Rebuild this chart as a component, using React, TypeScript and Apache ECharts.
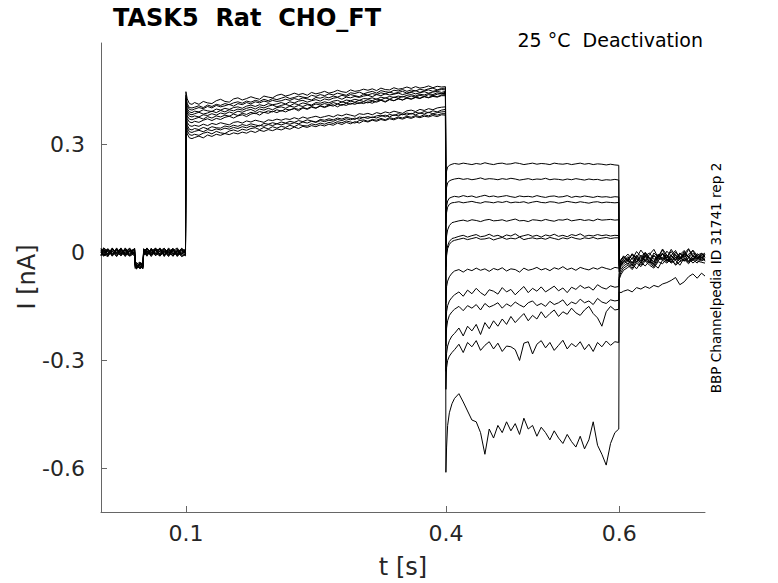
import React, { useEffect, useRef } from "react";
import * as echarts from "echarts";

// Sample times (s) of each protocol segment
const PRE_T = [0.002, 0.005, 0.01, 0.015, 0.02, 0.025, 0.03, 0.035, 0.0408, 0.0415, 0.043, 0.047, 0.0505, 0.0512, 0.055, 0.06, 0.065, 0.07, 0.075, 0.08, 0.085, 0.09, 0.095, 0.0995];
const PLATEAU_T = [
  0.1, 0.1015, 0.104, 0.107,
  0.11, 0.115, 0.12, 0.125, 0.13, 0.135, 0.14, 0.145, 0.15, 0.155,
  0.16, 0.165, 0.17, 0.175, 0.18, 0.185, 0.19, 0.195, 0.2, 0.205,
  0.21, 0.215, 0.22, 0.225, 0.23, 0.235, 0.24, 0.245, 0.25, 0.255,
  0.26, 0.265, 0.27, 0.275, 0.28, 0.285, 0.29, 0.295, 0.3, 0.305,
  0.31, 0.315, 0.32, 0.325, 0.33, 0.335, 0.34, 0.345, 0.35, 0.355,
  0.36, 0.365, 0.37, 0.375, 0.38, 0.385, 0.39, 0.395,
  0.3995,
];
const TAIL_T = [0.4, 0.4008, 0.402, 0.404, 0.407, 0.41, 0.415, 0.42, 0.425, 0.43, 0.435, 0.44, 0.445, 0.45, 0.455, 0.46, 0.465, 0.47, 0.475, 0.48, 0.485, 0.49, 0.495, 0.5, 0.505, 0.51, 0.515, 0.52, 0.525, 0.53, 0.535, 0.54, 0.545, 0.55, 0.555, 0.56, 0.565, 0.57, 0.575, 0.58, 0.585, 0.59, 0.595, 0.5995];
const POST_T = [0.6, 0.602, 0.605, 0.61, 0.615, 0.62, 0.625, 0.63, 0.635, 0.64, 0.645, 0.65, 0.655, 0.66, 0.665, 0.67, 0.675, 0.68, 0.685, 0.69, 0.695, 0.699];

// Current values in pA, one list per trace
const PRE_PA = [
  [4, -8, 10, -3, 7, -10, 2, 9, -5, -30, -38, -42, -34, 6, -9, 3, 11, -6, -1, 8, -11, 5, -4, 2],
  [-6, 5, -11, 8, -2, 11, -7, 3, 6, -36, -44, -33, -28, -8, 4, -12, 6, 9, -5, 2, 10, -9, 7, -3],
  [9, -3, 6, -10, 12, -5, 8, -9, 1, -26, -35, -45, -40, 3, 11, -7, -2, 10, -12, 6, -4, 9, -8, 5],
  [-10, 7, -4, 11, -8, 3, -12, 6, -6, -40, -31, -37, -44, -3, 8, -5, 12, -9, 4, -7, 11, -2, 6, -8],
  [2, 10, -7, 4, -11, 8, -2, 12, -9, -33, -47, -30, -36, 9, -6, 10, -4, 7, -10, 12, -3, -7, 10, 1],
  [-4, -10, 8, -6, 5, -2, 10, -8, 11, -29, -38, -44, -31, -5, 12, -2, 8, -11, 3, -7, 9, -12, 4, -1],
  [7, 3, -9, 12, -5, 9, -3, -10, 4, -42, -34, -27, -39, 2, -7, 9, -10, 4, 11, -4, -8, 6, -11, -5],
  [-8, 11, 1, -4, 9, -7, 5, 2, -11, -35, -43, -40, -29, -9, 3, -8, 5, -3, 8, -10, 4, 12, -6, 7],
  [5, -6, -12, 7, -3, 12, -8, 4, 8, -32, -28, -39, -46, 8, -4, 6, -9, 12, -7, 3, -11, 1, 9, -3],
  [-2, 12, 3, -9, 10, -4, 7, -11, -3, -45, -39, -33, -41, -6, 9, -1, 4, -5, 11, -2, 6, -9, -3, 10],
  [11, -7, -5, 10, -1, -9, 12, -4, 2, -30, -41, -36, -27, 1, -11, 11, -6, 3, -8, 9, -6, 4, -12, -7],
  [-9, 2, 9, -11, 4, 6, -5, 10, -7, -38, -34, -46, -32, -2, 5, -9, 10, -7, 2, -12, 8, -5, 11, 3],
  [0, -11, -2, 3, -12, 5, -9, 1, 10, -34, -45, -29, -38, 10, -2, 4, -3, -10, 7, -1, 2, -6, -1, -10],
];

const PLATEAU_PA = [
  [445, 425, 412, 410,
    415, 410, 418, 414, 412, 420, 424, 418, 416, 425,
    428, 422, 426, 431, 427, 424, 433, 430, 428, 435,
    438, 433, 436, 441, 437, 440, 435, 443, 439, 442,
    446, 441, 444, 449, 445, 443, 450, 446, 448, 452,
    449, 453, 448, 455, 451, 450, 456, 452, 454, 458,
    454, 459, 455, 457, 461, 456, 460, 458,
    459],
  [435, 412, 401, 400,
    402, 406, 401, 408, 404, 410, 407, 412, 409, 414,
    417, 413, 419, 416, 421, 418, 424, 420, 426, 423,
    427, 431, 426, 429, 433, 430, 428, 435, 432, 437,
    434, 439, 436, 441, 438, 435, 442, 440, 444, 439,
    443, 446, 441, 448, 445, 443, 449, 447, 451, 446,
    450, 447, 452, 449, 453, 455, 450, 454,
    455],
  [428, 406, 396, 394,
    397, 401, 398, 404, 400, 407, 403, 406, 410, 405,
    412, 409, 415, 411, 417, 414, 419, 416, 421, 418,
    420, 424, 421, 426, 423, 428, 425, 422, 429, 427,
    431, 428, 433, 430, 435, 432, 437, 434, 431, 438,
    436, 440, 437, 442, 439, 444, 440, 443, 446, 441,
    445, 448, 443, 447, 450, 446, 449, 451,
    450],
  [425, 398, 389, 387,
    391, 389, 395, 392, 390, 397, 394, 399, 396, 401,
    403, 399, 405, 408, 404, 409, 406, 412, 409, 411,
    415, 411, 417, 414, 419, 421, 416, 420, 423, 419,
    425, 422, 427, 429, 424, 430, 428, 432, 429, 433,
    435, 431, 437, 434, 439, 436, 438, 441, 437, 440,
    443, 439, 442, 445, 441, 444, 446, 443,
    446],
  [420, 392, 383, 381,
    384, 388, 383, 386, 391, 387, 393, 389, 395, 392,
    397, 394, 399, 402, 397, 403, 400, 405, 408, 403,
    407, 410, 406, 412, 409, 414, 411, 408, 415, 413,
    417, 414, 419, 421, 416, 422, 420, 424, 421, 426,
    425, 428, 424, 430, 427, 432, 429, 433, 430, 435,
    437, 433, 438, 436, 440, 437, 442, 439,
    444],
  [412, 386, 377, 375,
    378, 375, 381, 379, 384, 380, 386, 383, 389, 385,
    391, 388, 393, 396, 390, 397, 394, 399, 395, 401,
    403, 399, 405, 402, 407, 404, 409, 406, 411, 408,
    412, 409, 415, 411, 417, 414, 419, 416, 421, 418,
    423, 420, 425, 422, 428, 424, 430, 427, 432, 429,
    433, 430, 435, 432, 437, 434, 438, 440,
    440],
  [405, 378, 369, 367,
    370, 374, 369, 376, 372, 378, 375, 380, 377, 383,
    379, 385, 382, 388, 384, 390, 387, 392, 389, 395,
    391, 397, 394, 399, 396, 401, 398, 404, 400, 406,
    403, 408, 405, 411, 407, 413, 410, 415, 412, 417,
    414, 419, 416, 421, 418, 424, 420, 426, 422, 428,
    425, 430, 427, 432, 429, 434, 431, 436,
    437],
  [400, 370, 361, 359,
    363, 360, 366, 370, 365, 371, 368, 374, 377, 372,
    378, 381, 376, 383, 386, 380, 388, 385, 391, 387,
    393, 389, 395, 398, 392, 400, 396, 402, 399, 405,
    401, 406, 409, 403, 410, 407, 413, 410, 415, 412,
    417, 413, 419, 422, 416, 423, 420, 425, 422, 427,
    424, 429, 426, 431, 428, 432, 430, 434,
    434],
  [390, 360, 351, 349,
    352, 349, 355, 351, 357, 354, 359, 356, 353, 360,
    362, 358, 364, 361, 366, 363, 360, 367, 365, 369,
    366, 370, 368, 373, 369, 375, 371, 374, 377, 373,
    376, 379, 375, 381, 378, 383, 380, 377, 384, 382,
    385, 381, 387, 384, 389, 386, 391, 388, 385, 392,
    394, 390, 396, 393, 398, 395, 400, 402,
    403],
  [385, 352, 341, 339,
    343, 340, 346, 342, 348, 345, 344, 350, 347, 352,
    349, 354, 351, 356, 353, 350, 357, 355, 359, 356,
    361, 358, 363, 360, 365, 362, 367, 364, 361, 368,
    366, 370, 367, 372, 369, 374, 371, 368, 375, 373,
    376, 373, 378, 380, 375, 382, 379, 384, 381, 386,
    383, 388, 385, 390, 387, 392, 389, 394,
    396],
  [375, 345, 334, 332,
    335, 338, 334, 340, 337, 342, 339, 344, 341, 346,
    343, 348, 345, 350, 347, 352, 349, 354, 351, 356,
    353, 357, 355, 359, 356, 361, 358, 363, 360, 365,
    362, 366, 363, 368, 365, 370, 367, 372, 369, 374,
    371, 375, 372, 377, 380, 375, 381, 378, 383, 380,
    385, 381, 386, 383, 388, 384, 387, 389,
    390],
  [368, 337, 326, 324,
    327, 324, 330, 333, 328, 335, 331, 329, 336, 339,
    335, 341, 338, 343, 345, 340, 346, 342, 348, 344,
    349, 346, 352, 348, 354, 351, 350, 356, 353, 358,
    355, 360, 357, 362, 359, 364, 361, 358, 365, 367,
    363, 368, 366, 371, 367, 373, 370, 375, 372, 377,
    374, 379, 376, 381, 378, 383, 380, 384,
    384],
  [362, 328, 317, 315,
    318, 322, 317, 325, 321, 327, 324, 329, 326, 331,
    328, 333, 330, 336, 332, 338, 335, 340, 337, 342,
    339, 344, 341, 347, 343, 349, 346, 351, 348, 353,
    350, 355, 352, 358, 354, 360, 356, 362, 358, 364,
    361, 366, 363, 368, 365, 370, 367, 372, 369, 374,
    371, 376, 373, 377, 375, 379, 376, 381,
    380],
];

const TAIL_PA = [
  [200, 225, 236, 241, 244, 246, 244, 247, 245, 243, 246, 244, 248, 245, 243, 246, 247, 244, 245, 248, 246, 243, 245, 247, 244, 246, 245, 243, 247, 245, 244, 246, 243, 245, 247, 244, 246, 243, 245, 244, 242, 244, 242, 241],
  [150, 180, 192, 198, 201, 203, 205, 202, 204, 201, 203, 206, 202, 204, 203, 201, 204, 202, 205, 203, 200, 202, 204, 201, 203, 202, 205, 201, 203, 202, 200, 203, 201, 204, 202, 200, 203, 201, 202, 199, 201, 200, 202, 200],
  [100, 128, 142, 150, 153, 155, 153, 157, 154, 156, 152, 155, 158, 154, 156, 153, 155, 157, 154, 152, 156, 154, 155, 153, 157, 154, 152, 155, 156, 153, 154, 157, 152, 155, 153, 156, 154, 152, 155, 153, 154, 152, 154, 153],
  [80, 110, 125, 133, 137, 138, 140, 137, 139, 141, 138, 136, 140, 139, 137, 140, 138, 141, 137, 139, 138, 140, 136, 139, 141, 138, 137, 140, 139, 136, 138, 141, 139, 137, 140, 138, 136, 139, 140, 137, 139, 138, 137, 138],
  [10, 45, 62, 74, 82, 84, 87, 89, 86, 90, 88, 85, 89, 91, 87, 88, 90, 86, 89, 92, 87, 88, 85, 90, 89, 87, 91, 88, 86, 90, 89, 92, 87, 89, 91, 88, 90, 87, 92, 89, 90, 91, 89, 90],
  [-40, 0, 18, 30, 38, 40, 44, 47, 42, 46, 49, 43, 45, 50, 44, 47, 42, 48, 45, 51, 43, 46, 49, 44, 47, 42, 48, 45, 50, 44, 47, 43, 49, 46, 51, 44, 47, 45, 49, 46, 48, 45, 47, 46],
  [-50, -10, 10, 22, 30, 33, 36, 39, 35, 38, 41, 36, 37, 40, 34, 38, 41, 36, 39, 37, 42, 35, 38, 40, 37, 39, 36, 41, 38, 35, 40, 37, 42, 38, 36, 40, 38, 41, 37, 39, 41, 38, 40, 40],
  [-140, -95, -80, -68, -58, -52, -48, -55, -47, -51, -44, -50, -46, -53, -45, -49, -43, -52, -46, -48, -55, -44, -50, -47, -42, -49, -45, -51, -43, -47, -40, -48, -44, -50, -42, -46, -49, -43, -47, -41, -45, -48, -42, -44],
  [-210, -165, -148, -135, -125, -118, -110, -122, -105, -115, -100, -112, -120, -104, -108, -116, -98, -110, -103, -118, -106, -95, -112, -100, -108, -96, -110, -102, -94, -107, -99, -112, -97, -103, -92, -100, -96, -105, -90, -98, -102, -93, -97, -95],
  [-260, -210, -190, -175, -165, -158, -150, -162, -148, -155, -145, -160, -142, -152, -147, -140, -155, -143, -150, -138, -146, -152, -140, -135, -148, -142, -150, -136, -145, -140, -132, -148, -138, -143, -130, -140, -135, -145, -128, -138, -142, -132, -135, -133],
  [-330, -280, -260, -245, -232, -225, -210, -232, -205, -218, -200, -228, -195, -212, -190, -205, -185, -200, -178, -195, -182, -170, -190, -175, -185, -165, -182, -170, -160, -178, -165, -172, -155, -168, -175, -160, -150, -170, -182, -205, -165, -150, -160, -158],
  [-380, -320, -300, -288, -278, -270, -255, -278, -250, -262, -245, -272, -258, -248, -268, -252, -275, -260, -262, -270, -300, -252, -248, -282, -255, -245, -265, -250, -272, -258, -244, -268, -253, -262, -248, -270, -255, -275, -250, -262, -246, -258, -248, -250],
  [-610, -540, -480, -445, -420, -405, -392, -415, -440, -465, -470, -500, -560, -490, -515, -480, -500, -470, -495, -475, -505, -460, -490, -480, -510, -485, -500, -520, -495, -515, -530, -505, -525, -540, -510, -545, -520, -470, -535, -560, -590, -530, -500, -490],
];

const POST_PA = [
  [-40, -28, -18, -5, -20, 2, -12, -25, -6, 8, -15, -2, -22, -9, 5, -18, -4, 10, -12, -20, -3, -8],
  [-35, -22, -10, -24, -4, -16, 6, -10, -28, -2, -14, 9, -8, -20, 0, -12, -25, -5, 4, -15, -9, -2],
  [-45, -32, -25, -12, -30, -8, -20, 0, -15, -26, -5, -18, 3, -10, -22, -7, 5, -16, -3, -12, -20, -6],
  [-30, -20, -12, -22, -6, -28, -12, -2, -18, -8, -24, -4, -15, 8, -10, -20, -2, -13, 6, -9, -16, -11],
  [-50, -36, -28, -20, -35, -14, -26, -8, -22, -32, -12, -4, -20, -28, -6, -17, 2, -14, -24, -8, -3, -15],
  [-38, -22, -14, -25, -5, -18, -30, -10, -2, -20, -12, 6, -16, -8, -22, -3, -14, 8, -10, -18, -5, -12],
  [-55, -40, -32, -24, -38, -18, -30, -12, -26, -36, -16, -22, -8, -28, -14, -20, -6, -25, -11, -17, -24, -19],
  [-42, -30, -20, -34, -15, -26, -8, -22, -30, -10, -18, -4, -25, -12, -20, -2, -16, -28, -9, -14, -22, -18],
  [-60, -48, -38, -30, -44, -24, -36, -18, -30, -40, -22, -14, -28, -20, -34, -12, -24, -16, -30, -20, -10, -22],
  [-48, -35, -25, -16, -30, -10, -24, -4, -18, -28, -8, -20, -14, 2, -16, -26, -6, -12, -22, -4, -14, -10],
  [-70, -55, -44, -36, -48, -30, -40, -24, -36, -44, -26, -32, -18, -30, -22, -36, -16, -26, -20, -30, -14, -25],
  [-75, -62, -50, -42, -32, -46, -28, -38, -24, -34, -44, -22, -30, -18, -36, -26, -20, -32, -16, -24, -28, -30],
  [-110, -112, -108, -104, -110, -98, -102, -95, -100, -92, -96, -88, -84, -78, -70, -90, -82, -68, -60, -72, -58, -66],
];

const X_TICKS = [0.1, 0.4, 0.6];
const Y_TICKS = [-0.6, -0.3, 0, 0.3];

const FONT = "DejaVu Sans";

function buildTrace(i: number): number[][] {
  const pts: number[][] = [];
  const segs: [number[], number[]][] = [
    [PRE_T, PRE_PA[i]],
    [PLATEAU_T, PLATEAU_PA[i]],
    [TAIL_T, TAIL_PA[i]],
    [POST_T, POST_PA[i]],
  ];
  for (const [ts, vs] of segs) {
    const n = Math.min(ts.length, vs.length);
    for (let k = 0; k < n; k++) pts.push([ts[k], vs[k] / 1000]);
  }
  return pts;
}

export default function App() {
  const ref = useRef<HTMLDivElement>(null);
  useEffect(() => {
    if (!ref.current) return;
    const chart = echarts.init(ref.current, undefined, { renderer: "svg" });
    const series = PRE_PA.map((_, i) => ({
      type: "line",
      data: buildTrace(i),
      showSymbol: false,
      symbol: "none",
      silent: true,
      lineStyle: { color: "#000", width: 1 },
      emphasis: { disabled: true },
    }));
    const axisColor = "#666";
    chart.setOption({
      animation: false,
      backgroundColor: "#fff",
      grid: { left: 101, right: 73, top: 43, bottom: 71, containLabel: false },
      xAxis: {
        type: "value",
        min: 0.002,
        max: 0.699,
        axisLine: { show: true, onZero: false, lineStyle: { color: axisColor, width: 1 } },
        axisTick: { show: true, inside: true, length: 6, customValues: X_TICKS, lineStyle: { color: axisColor } },
        axisLabel: {
          customValues: X_TICKS,
          formatter: (v: number) => String(v),
          fontSize: 22,
          color: "#262626",
          fontFamily: FONT,
          margin: 10,
        },
        splitLine: { show: false },
      },
      yAxis: {
        type: "value",
        min: -0.72,
        max: 0.58,
        axisLine: { show: true, onZero: false, lineStyle: { color: axisColor, width: 1 } },
        axisTick: { show: true, inside: true, length: 6, customValues: Y_TICKS, lineStyle: { color: axisColor } },
        axisLabel: {
          customValues: Y_TICKS,
          formatter: (v: number) => String(v),
          fontSize: 22,
          color: "#262626",
          fontFamily: FONT,
          margin: 16,
        },
        splitLine: { show: false },
      },
      series,
      graphic: [
        {
          type: "text",
          x: 113,
          y: 18,
          style: { text: "TASK5  Rat  CHO_FT", font: `bold 24px "${FONT}"`, fill: "#000", align: "left", verticalAlign: "middle" },
        },
        {
          type: "text",
          x: 703,
          y: 40,
          style: { text: "25 °C  Deactivation", font: `19px "${FONT}"`, fill: "#000", align: "right", verticalAlign: "middle" },
        },
        {
          type: "text",
          x: 716,
          y: 278,
          rotation: Math.PI / 2,
          style: { text: "BBP Channelpedia ID 31741 rep 2", font: `13.6px "${FONT}"`, fill: "#000", align: "center", verticalAlign: "middle" },
        },
        {
          type: "text",
          x: 27,
          y: 277,
          rotation: Math.PI / 2,
          style: { text: "I [nA]", font: `24px "${FONT}"`, fill: "#262626", align: "center", verticalAlign: "middle" },
        },
        {
          type: "text",
          x: 403,
          y: 567,
          style: { text: "t [s]", font: `24px "${FONT}"`, fill: "#262626", align: "center", verticalAlign: "middle" },
        },
      ],
    });
    return () => chart.dispose();
  }, []);
  return <div ref={ref} style={{ position: "fixed", left: 0, top: 0, width: 778, height: 583 }} />;
}
